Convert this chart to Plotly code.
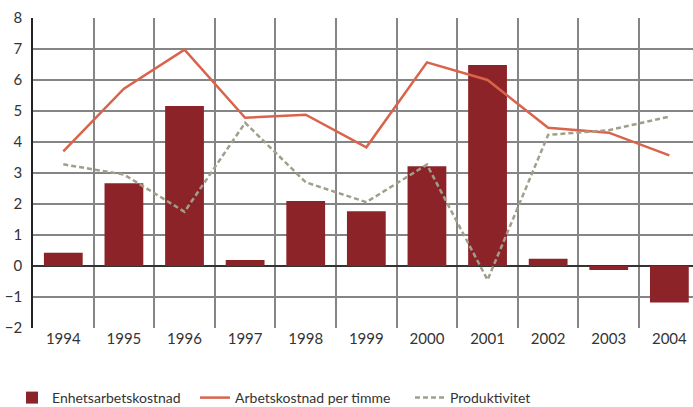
import plotly.graph_objects as go

# ── Data ─────────────────────────────────────────────────────────────────────
years = ["1994", "1995", "1996", "1997", "1998", "1999",
         "2000", "2001", "2002", "2003", "2004"]
enhetsarbetskostnad = [0.43, 2.67, 5.16, 0.19, 2.1, 1.77, 3.22, 6.48, 0.23, -0.13, -1.18]
arbetskostnad_timme = [3.7, 5.72, 6.98, 4.78, 4.88, 3.83, 6.57, 6.0, 4.46, 4.3, 3.57]
produktivitet = [3.28, 2.95, 1.75, 4.62, 2.7, 2.06, 3.27, -0.45, 4.23, 4.38, 4.82]

W, H = 693, 407
FONT = "Lato, Open Sans, sans-serif"
GRID = "#858585"

fig = go.Figure()

fig.add_trace(go.Bar(
    x=years, y=enhetsarbetskostnad, name="Enhetsarbetskostnad",
    marker=dict(color="#8B2328", line=dict(width=0)), width=0.64,
    legend="legend",
))
fig.add_trace(go.Scatter(
    x=years, y=arbetskostnad_timme, name="Arbetskostnad per timme",
    mode="lines", line=dict(color="#D9634B", width=2.5),
    legend="legend2",
))
fig.add_trace(go.Scatter(
    x=years, y=produktivitet, name="Produktivitet",
    mode="lines", line=dict(color="#A19F8A", width=2.5, dash="5px,3px"),
    legend="legend3",
))

legend_common = dict(
    orientation="h", xref="container", yref="container",
    yanchor="middle", y=1 - 398 / H, bgcolor="rgba(0,0,0,0)",
    font=dict(family=FONT, size=14, color="#333333"),
)

fig.update_layout(
    width=W, height=H,
    paper_bgcolor="white", plot_bgcolor="white",
    margin=dict(l=33, r=0, t=18, b=79, autoexpand=False),
    font=dict(family=FONT, size=15, color="#333333"),
    showlegend=True,
    legend=dict(x=12 / W, **legend_common),
    legend2=dict(x=195 / W, **legend_common),
    legend3=dict(x=410 / W, **legend_common),
    xaxis=dict(
        type="category", range=[-0.5, 10.39], tickson="boundaries",
        showgrid=True, gridcolor=GRID, gridwidth=1.5, ticks="", ticklen=0,
        showline=False, tickfont=dict(size=15),
    ),
    yaxis=dict(
        range=[-2, 8], dtick=1, showgrid=True, gridcolor=GRID, gridwidth=1.5,
        zeroline=True, zerolinecolor="#333333", zerolinewidth=1.5,
        showline=True, linecolor="#222222", linewidth=1.5,
        ticks="", ticklabelstandoff=6, tickfont=dict(size=15),
    ),
    bargap=0.36,
)

# page body has a default 8px margin; drop it so the chart fills the window
fig.write_html("out.html", config={"displayModeBar": False},
               post_script="document.body.style.margin='0';")
